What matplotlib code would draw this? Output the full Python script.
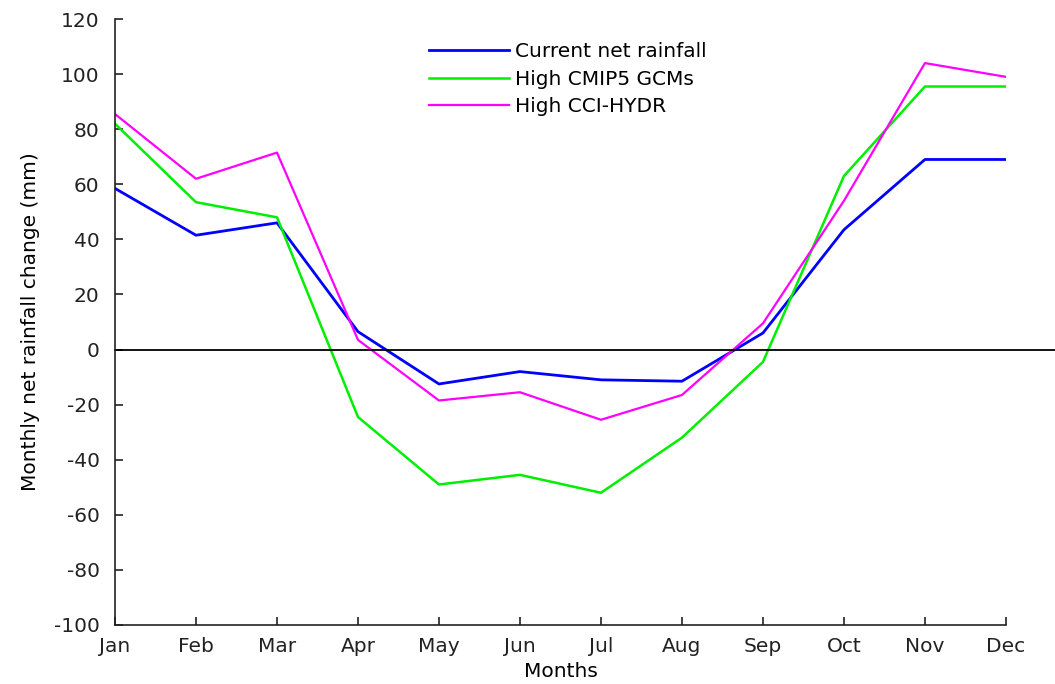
import matplotlib.pyplot as plt

months = ["Jan", "Feb", "Mar", "Apr", "May", "Jun",
          "Jul", "Aug", "Sep", "Oct", "Nov", "Dec"]
current = [58.5, 41.5, 46, 6.5, -12.5, -8, -11, -11.5, 6, 43.5, 69, 69]
cmip5 = [82, 53.5, 48, -24.5, -49, -45.5, -52, -32, -4.5, 63, 95.5, 95.5]
cci_hydr = [85.5, 62, 71.5, 3.5, -18.5, -15.5, -25.5, -16.5, 9.5, 54, 104, 99]

plt.rcParams["font.family"] = ["DejaVu Sans"]
plt.rcParams["axes.unicode_minus"] = False

fig = plt.figure(figsize=(10.55, 6.84), dpi=100)
ax = fig.add_axes([0.109, 0.0863, 0.8445, 0.8859])

x = list(range(1, 13))
ax.plot(x, current, color="#0000ff", lw=2.0, label="Current net rainfall")
ax.plot(x, cmip5, color="#00ee00", lw=1.8, label="High CMIP5 GCMs")
ax.plot(x, cci_hydr, color="#ff00ff", lw=1.6, label="High CCI-HYDR")

# zero line runs past the right end of the axis
ax.plot([1, 13.6], [0, 0], color="black", lw=1.3, clip_on=False)

ax.set_xlim(1, 12)
ax.set_ylim(-100, 120)
ax.set_xticks(x)
ax.set_xticklabels(months)
ax.set_yticks(range(-100, 121, 20))

for s in ["top", "right"]:
    ax.spines[s].set_visible(False)
for s in ["left", "bottom"]:
    ax.spines[s].set_linewidth(1.2)
    ax.spines[s].set_color("#222222")
ax.tick_params(direction="in", length=6, width=1.2, labelsize=14.5,
               colors="#222222")
ax.tick_params(axis="y", pad=11)
ax.tick_params(axis="x", pad=9)

ax.set_xlabel("Months", fontsize=14.5, labelpad=4)
ax.set_ylabel("Monthly net rainfall change (mm)", fontsize=14.5, labelpad=10)

ax.legend(loc="upper left", bbox_to_anchor=(0.343, 0.975), frameon=False,
          fontsize=14.5, handlelength=4.0, handletextpad=0.3,
          labelspacing=0.42, borderaxespad=0)

plt.savefig("out.png", dpi=100)
